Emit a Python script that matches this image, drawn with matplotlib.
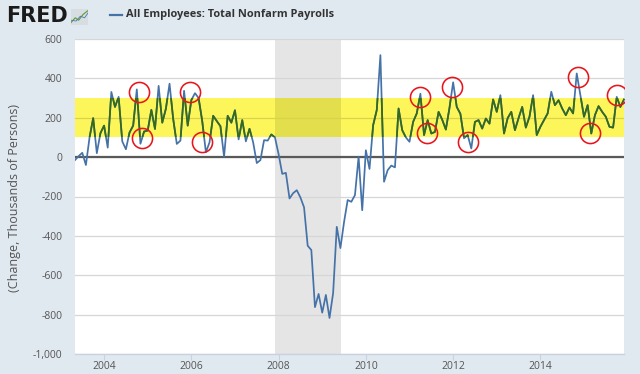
import numpy as np
import pandas as pd
import matplotlib
matplotlib.use("Agg")
import matplotlib.pyplot as plt
from matplotlib.lines import Line2D
from matplotlib.patches import Rectangle

# ---------------- data ----------------
start_month = "2003-05"
end_month = "2015-12"
payroll_change = [
    # 2003 (May-Dec)
    -15, 5, 22, -40, 100, 198, 20, 122,
    # 2004
    160, 48, 331, 255, 306, 80, 40, 125, 160, 344, 68, 130,
    # 2005
    135, 240, 143, 362, 175, 246, 373, 195, 67, 84, 337, 160,
    # 2006
    290, 325, 300, 182, 25, 75, 210, 183, 157, 2, 210, 175,
    # 2007
    238, 90, 188, 80, 144, 75, -30, -15, 86, 84, 115, 100,
    # 2008
    15, -85, -80, -210, -183, -168, -205, -255, -450, -472, -762, -695,
    # 2009
    -790, -700, -817, -690, -354, -462, -330, -218, -227, -193, 2, -270,
    # 2010
    35, -60, 162, 239, 518, -125, -66, -43, -52, 247, 137, 100,
    # 2011
    78, 179, 222, 322, 112, 188, 120, 128, 230, 190, 140, 250,
    # 2012
    380, 255, 220, 96, 112, 44, 179, 188, 145, 196, 170, 293,
    # 2013
    230, 315, 120, 198, 230, 137, 198, 255, 150, 205, 315, 112,
    # 2014
    154, 188, 222, 332, 264, 289, 247, 213, 252, 222, 425, 315,
    # 2015
    205, 264, 120, 213, 259, 230, 205, 154, 150, 306, 255, 293,
]
recession = (2007 + 11 / 12, 2009 + 5.2 / 12)   # Dec 2007 - Jun 2009
band = (100, 300)
circle_x = [2004.79, 2004.88, 2005.96, 2006.25, 2011.23, 2011.40,
            2011.98, 2012.35, 2014.86, 2015.13, 2015.76]
circle_y = [331, 95, 331, 75, 306, 123, 357, 75, 405, 123, 315]
y_ticks = [600, 400, 200, 0, -200, -400, -600, -800, -1000]
x_ticks = [2004, 2006, 2008, 2010, 2012, 2014]
title = "All Employees: Total Nonfarm Payrolls"
y_label = "(Change, Thousands of Persons)"

periods = pd.period_range(start_month, end_month, freq="M")
t = np.array([p.year + (p.month - 1) / 12 for p in periods])
v = np.array(payroll_change, dtype=float)

# ---------------- style ----------------
BG = "#e1e9f0"
BLUE = "#4572a7"
GREEN = "#356a1e"
W, H = 640, 374
plt.rcParams["font.family"] = ["Open Sans", "DejaVu Sans"]

fig = plt.figure(figsize=(W / 100, H / 100), dpi=100, facecolor=BG)
ax = fig.add_axes([75 / W, 1 - 354 / H, (624 - 75) / W, (354 - 39) / H])
ax.set_facecolor("white")
ax.set_xlim(t[0], t[-1])
ax.set_ylim(-1000, 600)

ax.set_axisbelow(True)
ax.yaxis.grid(True, color="#d6d6d6", lw=0.9, zorder=0.5)
ax.axvspan(recession[0], recession[1], color="#e5e5e5", lw=0, zorder=0.3)

# yellow highlight band (multiply-like look over recession shading)
ax.axhspan(band[0], band[1], color="#fdf65a", lw=0, zorder=1)
ax.add_patch(Rectangle((recession[0], band[0]), recession[1] - recession[0],
                       band[1] - band[0], color="#e3de4c", lw=0, zorder=1.1))
ax.axhline((band[0] + band[1]) / 2, color="#d9d34a", lw=0.9, zorder=1.2)

ax.axhline(0, color="#595959", lw=1.6, zorder=1.5)

ax.plot(t, v, color=BLUE, lw=1.25, zorder=2)
g, = ax.plot(t, v, color=GREEN, lw=1.25, zorder=2.1)
clip = Rectangle((t[0] - 1, band[0]), t[-1] - t[0] + 2, band[1] - band[0],
                 transform=ax.transData, visible=False)
ax.add_patch(clip)
g.set_clip_path(clip)

ax.plot(circle_x, circle_y, ls="none", marker="o", ms=14.5, mfc="none",
        mec="#e8161c", mew=1.15, zorder=3)

for s in ["top", "right", "left"]:
    ax.spines[s].set_visible(False)
ax.spines["bottom"].set_color("#c8d2de")
ax.spines["bottom"].set_linewidth(1.0)

ax.set_yticks(y_ticks)
ax.set_yticklabels([f"{y:,}" for y in y_ticks])
ax.set_xticks(x_ticks)
ax.set_xticklabels([str(x) for x in x_ticks])
ax.tick_params(axis="y", length=0, pad=9, labelsize=7.5, labelcolor="#555555")
ax.tick_params(axis="x", length=4, width=0.8, color="#c8d2de", pad=1,
               labelsize=7.5, labelcolor="#555555")

fig.text(15 / W, 1 - 198 / H, y_label, rotation=90, ha="center", va="center",
         fontsize=9, color="#555555")

# header
fig.text(6 / W, 1 - 16 / H, "FRED", fontsize=15, fontweight="heavy",
         family="DejaVu Sans", color="#1a1a1a", ha="left", va="center")
icon = fig.add_axes([71 / W, 1 - 25 / H, 17 / W, 16 / H])
icon.set_facecolor("#d8dde2")
icon.plot([0, 0.25, 0.45, 0.7, 1], [0.15, 0.45, 0.3, 0.65, 0.9], color="#5a9a3a", lw=0.8)
icon.plot([0, 0.3, 0.55, 0.8, 1], [0.3, 0.25, 0.55, 0.45, 0.75], color="#4a78b0", lw=0.6)
icon.set_xlim(0, 1)
icon.set_ylim(0, 1)
icon.set_xticks([])
icon.set_yticks([])
for s in icon.spines.values():
    s.set_visible(False)

fig.add_artist(Line2D([110 / W, 122 / W], [1 - 15 / H] * 2, color=BLUE, lw=1.6))
fig.text(126 / W, 1 - 15 / H, title, fontsize=7.9, fontweight="bold",
         color="#333333", ha="left", va="center")

fig.savefig("out.png", dpi=100, facecolor=BG)
